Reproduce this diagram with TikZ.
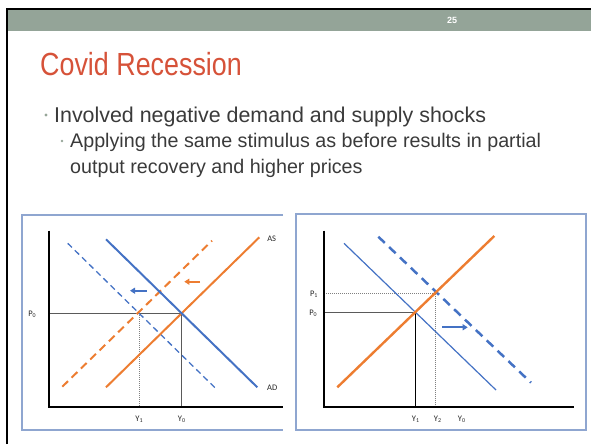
\documentclass[tikz,border=0pt]{standalone}
\usepackage{fontspec}
\setmainfont{Liberation Sans}
\newfontfamily\titlefont[FakeStretch=0.84]{Liberation Sans}
\newfontfamily\axisfont{Carlito}
\usetikzlibrary{positioning,arrows.meta}
\definecolor{headgreen}{RGB}{148,164,152}
\definecolor{titlered}{RGB}{214,82,57}
\definecolor{bodygray}{RGB}{58,58,58}
\definecolor{framegray}{RGB}{143,166,208}
\definecolor{adblue}{RGB}{68,114,196}
\definecolor{asorange}{RGB}{237,125,49}
\definecolor{dotgreen}{RGB}{150,166,152}
\definecolor{refgray}{RGB}{90,90,90}
\tikzset{
  chartframe/.style={framegray,line width=1.2pt},
  axisline/.style={black,line width=2pt},
  refline/.style={refgray,line width=1.2pt},
  dotline/.style={gray,line width=0.5pt,dash pattern=on 1pt off 1pt},
  axislabel/.style={font=\axisfont\fontsize{8.5}{9}\selectfont,text=black!85,inner sep=0pt},
  shiftarrow/.style={line width=2pt,-{Triangle[length=5pt,width=6pt]}},
  bodytext/.style={anchor=base west,inner sep=0pt,text=bodygray},
  bulletdot/.style={circle,fill=dotgreen,inner sep=0pt,minimum size=3.4pt}
}

\begin{document}
\begin{tikzpicture}[x=1pt,y=-1pt]
  \useasboundingbox (0,0) rectangle (591,444);
  % slide
  \fill[headgreen] (8,10) rectangle (591,31);
  \draw[black,line width=2pt] (7,444) -- (7,9) -- (591,9);
  \node[text=white,font=\bfseries\fontsize{9}{9}\selectfont] (pageno) at (452,20) {25};
  \node[anchor=base west,inner sep=0pt,text=titlered,font=\titlefont\fontsize{32}{32}\selectfont] (title) at (40,75) {Covid Recession};
  \node[bulletdot] (dotA) at (46,115) {};
  \node[bodytext,font=\fontsize{21.4}{22}\selectfont] (lineA) at (54,122) {Involved negative demand and supply shocks};
  \node[bulletdot,minimum size=2.8pt] (dotB) at (62,141) {};
  \node[bodytext,font=\fontsize{19.7}{20}\selectfont] (lineB) at (70,147.5) {Applying the same stimulus as before results in partial};
  \node[bodytext,font=\fontsize{19.7}{20}\selectfont] (lineC) at (70,173) {output recovery and higher prices};

  % left chart
  \draw[chartframe] (283,215) -- (22,215) -- (22,430) -- (283,430);
  \coordinate (lTop) at (48.7,230.7);
  \coordinate (lO) at (48.7,406.7);
  \coordinate (lEnd) at (283,406.7);
  \coordinate (eZero) at (181.7,313.3);
  \coordinate (eOne) at (139.3,313.3);
  \draw[refline] (lO |- eZero) -- (eZero) -- (eZero |- lO);
  \draw[dotline] (eOne) -- (eOne |- lO);
  \coordinate (asLo) at (106,387.3);  \coordinate (asHi) at (259.3,237.3);
  \coordinate (adHi) at (106,239.3);  \coordinate (adLo) at (257.3,387.3);
  \coordinate (asdLo) at (62.3,386.7); \coordinate (asdHi) at (212,240.7);
  \coordinate (addHi) at (67.7,243.3); \coordinate (addLo) at (217.3,390);
  \draw[asorange,line width=2pt,dash pattern=on 8pt off 5pt] (asdLo) -- (asdHi);
  \draw[adblue,line width=1.3pt,dash pattern=on 6pt off 4pt] (addHi) -- (addLo);
  \draw[asorange,line width=2pt] (asLo) -- (asHi);
  \draw[adblue,line width=2pt] (adHi) -- (adLo);
  \draw[axisline] (lTop) -- (lO) -- (lEnd);
  \node[axislabel] (asL) at (271.7,238.3) {AS};
  \node[axislabel] (adL) at (272.3,387.7) {AD};
  \node[axislabel] (pZeroL) at (32.3,314.3) {P\textsubscript{0}};
  \node[axislabel] (yOneL) at (139.3,419.3) {Y\textsubscript{1}};
  \node[axislabel] (yZeroL) at (181.7,419.3) {Y\textsubscript{0}};
  \coordinate (oArrS) at (200,281.7); \coordinate (oArrE) at (184.3,281.7);
  \coordinate (bArrS) at (146.7,290.7); \coordinate (bArrE) at (130,290.7);
  \draw[shiftarrow,asorange] (oArrS) -- (oArrE);
  \draw[shiftarrow,adblue] (bArrS) -- (bArrE);

  % right chart
  \draw[chartframe] (296,214) rectangle (586,430);
  \coordinate (rTop) at (324,230.7);
  \coordinate (rO) at (324,406.7);
  \coordinate (rEnd) at (574.3,406.7);
  \coordinate (fZero) at (415.7,312.7);
  \coordinate (fTwo) at (435.7,293.3);
  \draw[dotline] (rO |- fTwo) -- (fTwo) -- (fTwo |- rO);
  \draw[refline] (rO |- fZero) -- (fZero);
  \draw[black,line width=1.2pt] (fZero) -- (fZero |- rO);
  \coordinate (rasLo) at (337.3,387.3); \coordinate (rasHi) at (494.3,236);
  \coordinate (radHi) at (344,243.3);   \coordinate (radLo) at (496,390);
  \coordinate (raddHi) at (378.3,236.7); \coordinate (raddLo) at (531,382.7);
  \draw[adblue,line width=1.2pt] (radHi) -- (radLo);
  \draw[adblue,line width=2.5pt,dash pattern=on 9pt off 6pt] (raddHi) -- (raddLo);
  \draw[asorange,line width=2.4pt] (rasLo) -- (rasHi);
  \draw[axisline] (rTop) -- (rO) -- (rEnd);
  \node[axislabel] (pOneR) at (314,294) {P\textsubscript{1}};
  \node[axislabel] (pZeroR) at (313.3,313.3) {P\textsubscript{0}};
  \node[axislabel] (yOneR) at (415.7,419.3) {Y\textsubscript{1}};
  \node[axislabel] (yTwoR) at (437.7,419.3) {Y\textsubscript{2}};
  \node[axislabel] (yZeroR) at (461.7,419.3) {Y\textsubscript{0}};
  \coordinate (rArrS) at (442.3,327.3); \coordinate (rArrE) at (467.7,327.3);
  \draw[shiftarrow,adblue] (rArrS) -- (rArrE);
\end{tikzpicture}
\end{document}
